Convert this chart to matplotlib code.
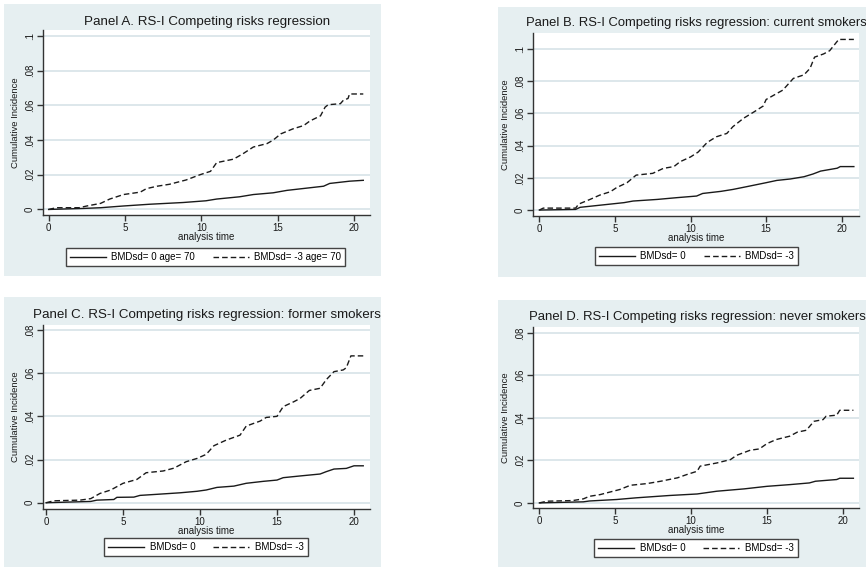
import matplotlib
matplotlib.use("Agg")
import matplotlib.pyplot as plt
from matplotlib.lines import Line2D
from matplotlib.patches import Rectangle

plt.rcParams['font.family'] = ['Liberation Sans', 'DejaVu Sans']

W, H = 866, 568

# Panel A: age 70
a_t_dash = [0, 0.5, 2.0, 2.5, 3.4, 4.0, 4.9, 6.0, 6.4, 7.1, 7.9, 9.0, 9.9, 10.6, 11.0, 12.1, 12.7, 13.4,
            14.3, 14.7, 15.2, 16.0, 16.7, 17.1, 17.8, 18.1, 18.3, 19.1, 19.3, 19.6, 19.7, 20.6]
a_ci_dash = [0, 0.001, 0.001, 0.002, 0.0035, 0.006, 0.0086, 0.010, 0.012, 0.0134, 0.0145, 0.017, 0.020,
             0.022, 0.027, 0.029, 0.032, 0.036, 0.038, 0.040, 0.0436, 0.0465, 0.0484, 0.051, 0.054, 0.059,
             0.0604, 0.061, 0.063, 0.064, 0.0666, 0.0666]
a_t_solid = [0, 2.3, 3.4, 4.9, 6.6, 8.8, 10.3, 11.0, 12.5, 13.4, 14.7, 15.6, 16.5, 18.0, 18.4, 19.7, 20.6]
a_ci_solid = [0, 0.0006, 0.001, 0.002, 0.003, 0.004, 0.005, 0.006, 0.0073, 0.0086, 0.0096, 0.011, 0.0119,
              0.0134, 0.015, 0.0163, 0.0168]

# Panel B: current smokers
b_t_dash = [0, 0.26, 2.4, 2.6, 3.35, 4.0, 4.7, 5.1, 5.8, 6.4, 7.5, 8.2, 8.9, 9.3, 10.0, 10.5, 11.1, 11.7,
            12.4, 12.8, 13.5, 14.2, 14.8, 15.0, 16.1, 16.8, 17.5, 17.9, 18.2, 18.8, 19.2, 19.8, 20.8]
b_ci_dash = [0, 0.0012, 0.0012, 0.0037, 0.0066, 0.0093, 0.0114, 0.0139, 0.017, 0.0217, 0.0228, 0.0259,
             0.027, 0.030, 0.033, 0.036, 0.042, 0.0455, 0.0476, 0.0518, 0.057, 0.061, 0.0646, 0.0687,
             0.0745, 0.0818, 0.084, 0.088, 0.095, 0.097, 0.099, 0.106, 0.106]
b_t_solid = [0, 2.4, 2.7, 4.0, 5.6, 6.2, 7.8, 9.1, 10.4, 10.8, 12.0, 12.8, 13.7, 15.0, 15.7, 16.6, 17.5,
             18.1, 18.6, 19.7, 19.9, 20.8]
b_ci_solid = [0, 0.0004, 0.0017, 0.003, 0.0046, 0.0056, 0.0066, 0.0077, 0.0087, 0.0103, 0.0116, 0.0128,
              0.0145, 0.017, 0.0184, 0.0193, 0.0207, 0.0224, 0.0242, 0.026, 0.027, 0.027]

# Panel C: former smokers
c_t_dash = [0, 0.5, 2.2, 2.9, 3.5, 4.2, 5.0, 5.9, 6.5, 7.6, 8.3, 9.1, 9.8, 10.4, 10.9, 11.7, 12.6, 13.0,
            13.9, 14.3, 15.0, 15.4, 16.1, 16.5, 17.1, 17.8, 18.2, 18.7, 19.3, 19.5, 19.8, 20.6]
c_ci_dash = [0, 0.0009, 0.0012, 0.0019, 0.0043, 0.0059, 0.009, 0.0108, 0.0139, 0.0147, 0.016, 0.019,
             0.0205, 0.0224, 0.0264, 0.029, 0.0313, 0.0355, 0.0378, 0.0395, 0.040, 0.0445, 0.0468, 0.0483,
             0.052, 0.053, 0.057, 0.0607, 0.0615, 0.0625, 0.068, 0.068]
c_t_solid = [0, 2.9, 3.3, 4.4, 4.6, 5.7, 6.1, 7.2, 8.7, 9.8, 10.4, 11.1, 12.2, 13.0, 14.1, 15.0, 15.4,
             16.5, 17.8, 18.2, 18.7, 19.5, 20.0, 20.6]
c_ci_solid = [0, 0.0006, 0.0012, 0.0015, 0.0025, 0.0026, 0.0034, 0.0039, 0.0046, 0.0053, 0.0059, 0.0071,
              0.0077, 0.009, 0.0099, 0.0105, 0.0116, 0.0124, 0.0133, 0.0144, 0.0156, 0.0159, 0.0171, 0.0171]

# Panel D: never smokers
d_t_dash = [0, 0.5, 2.2, 2.9, 3.3, 4.0, 4.7, 5.3, 6.0, 7.1, 8.0, 9.1, 9.7, 10.4, 10.6, 11.7, 12.6, 13.0,
            13.9, 14.5, 15.0, 15.6, 16.5, 17.0, 17.6, 18.1, 18.7, 18.9, 19.6, 19.8, 20.7]
d_ci_dash = [0, 0.0008, 0.0011, 0.0019, 0.0031, 0.0039, 0.0052, 0.0063, 0.0083, 0.0091, 0.0102, 0.0118,
             0.0133, 0.0149, 0.0173, 0.0188, 0.0204, 0.0224, 0.0248, 0.0254, 0.0279, 0.0298, 0.0314,
             0.0333, 0.0342, 0.0384, 0.0392, 0.0408, 0.0413, 0.0436, 0.0436]
d_t_solid = [0, 2.9, 3.3, 5.1, 6.4, 8.6, 10.4, 11.7, 13.5, 15.0, 16.5, 17.8, 18.2, 19.6, 19.8, 20.7]
d_ci_solid = [0, 0.0005, 0.0009, 0.0016, 0.0024, 0.0035, 0.0042, 0.0055, 0.0066, 0.0078, 0.0086, 0.0094,
              0.0102, 0.011, 0.0116, 0.0116]

titles = ["Panel A. RS-I Competing risks regression",
          "Panel B. RS-I Competing risks regression: current smokers",
          "Panel C. RS-I Competing risks regression: former smokers",
          "Panel D. RS-I Competing risks regression: never smokers"]
legend_labels = [["BMDsd= 0 age= 70", "BMDsd= -3 age= 70"],
                 ["BMDsd= 0", "BMDsd= -3"],
                 ["BMDsd= 0", "BMDsd= -3"],
                 ["BMDsd= 0", "BMDsd= -3"]]
x_ticks = [0, 5, 10, 15, 20]
y_ticks_big = [0, 0.02, 0.04, 0.06, 0.08, 0.1]
y_ticks_small = [0, 0.02, 0.04, 0.06, 0.08]
y_ticklabels_big = ["0", ".02", ".04", ".06", ".08", ".1"]
y_ticklabels_small = ["0", ".02", ".04", ".06", ".08"]

series = [(a_t_solid, a_ci_solid, a_t_dash, a_ci_dash),
          (b_t_solid, b_ci_solid, b_t_dash, b_ci_dash),
          (c_t_solid, c_ci_solid, c_t_dash, c_ci_dash),
          (d_t_solid, d_ci_solid, d_t_dash, d_ci_dash)]

# layout in pixels: background box, plot box, limits, title pos/size, legend centre
panels = [
    dict(bg=(4, 4, 381, 276), box=(43, 30, 370, 215), xlim=(-0.37, 21.04), ylim=(-0.0032, 0.1035),
         yt=(y_ticks_big, y_ticklabels_big), title=(207, 22, 'center', 9.6), leg=(205.5, 257)),
    dict(bg=(498, 7, 870, 277), box=(533, 33, 859, 216), xlim=(-0.42, 21.14), ylim=(-0.0037, 0.110),
         yt=(y_ticks_big, y_ticklabels_big), title=(526, 23, 'left', 9.35), leg=(696.5, 256)),
    dict(bg=(4, 297, 381, 567), box=(43, 325, 370, 509), xlim=(-0.2, 21.04), ylim=(-0.0029, 0.0823),
         yt=(y_ticks_small, y_ticklabels_small), title=(33, 315, 'left', 9.6), leg=(206, 547)),
    dict(bg=(498, 300, 870, 567), box=(533, 327, 859, 508), xlim=(-0.42, 21.07), ylim=(-0.0024, 0.0828),
         yt=(y_ticks_small, y_ticklabels_small), title=(529, 317, 'left', 9.45), leg=(696, 548)),
]

bg_col = '#E6EFF1'
grid_col = '#DAE5E9'
ink = '#1a1a1a'

fig = plt.figure(figsize=(W / 100, H / 100), dpi=100)

for p, (ts, cs, td, cd), title, labels in zip(panels, series, titles, legend_labels):
    x0, y0, x1, y1 = p['bg']
    fig.patches.append(Rectangle((x0 / W, 1 - y1 / H), (x1 - x0) / W, (y1 - y0) / H,
                                 transform=fig.transFigure, facecolor=bg_col, edgecolor='none',
                                 zorder=-5))
    l, t, r, b = p['box']
    ax = fig.add_axes([l / W, 1 - b / H, (r - l) / W, (b - t) / H])
    ax.set_zorder(2)
    ax.set_facecolor('white')
    ax.plot(ts, cs, color=ink, lw=1.0, solid_joinstyle='miter')
    ax.plot(td, cd, color=ink, lw=1.0, linestyle=(0, (4, 2.2)))
    ax.set_xlim(*p['xlim'])
    ax.set_ylim(*p['ylim'])
    ax.set_xticks(x_ticks)
    ax.set_xticklabels([str(v) for v in x_ticks])
    ax.set_yticks(p['yt'][0])
    ax.set_yticklabels(p['yt'][1], rotation=90, va='center')
    for v in p['yt'][0]:
        ax.axhline(v, color=grid_col, lw=1.3, zorder=0)
    for s in ['top', 'right']:
        ax.spines[s].set_visible(False)
    for s in ['left', 'bottom']:
        ax.spines[s].set_color('#333333')
        ax.spines[s].set_linewidth(1.0)
    ax.tick_params(direction='out', length=4, width=1, color='#333333', labelsize=7,
                   labelcolor=ink, pad=2)
    ax.set_ylabel("Cumulative Incidence", fontsize=6.8, color=ink, labelpad=3)
    ax.set_xlabel("analysis time", fontsize=7, color=ink, labelpad=-1)

    tx, ty, ha, fs = p['title']
    fig.text(tx / W, 1 - ty / H, title, fontsize=fs, ha=ha, va='center', color=ink, zorder=3)

    handles = [Line2D([], [], color=ink, lw=1.0),
               Line2D([], [], color=ink, lw=1.0, linestyle=(0, (4, 2.2)))]
    lx, ly = p['leg']
    leg = ax.legend(handles, labels, loc='center', bbox_to_anchor=(lx / W, 1 - ly / H),
                    bbox_transform=fig.transFigure, ncol=2, fontsize=7, frameon=True,
                    fancybox=False, edgecolor='#444444', facecolor='white', framealpha=1,
                    handlelength=3.7, handletextpad=0.6, columnspacing=1.8, borderpad=0.4,
                    borderaxespad=0)
    leg.get_frame().set_linewidth(1.0)

fig.savefig("out.png", dpi=100)
